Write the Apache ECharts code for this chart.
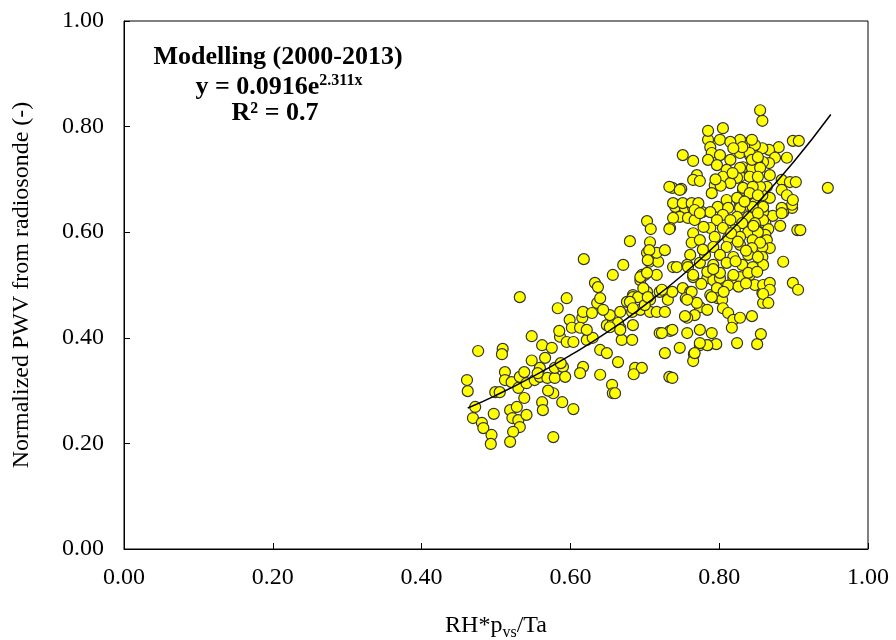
<!DOCTYPE html>
<html>
<head>
<meta charset="utf-8">
<script src="https://cdn.jsdelivr.net/npm/echarts@6/dist/echarts.min.js"></script>
<style>html,body{margin:0;padding:0;background:#fff}#c{width:896px;height:640px}</style>
</head>
<body>
<div id="c"></div>
<script>
// Tick labels
const xTicks = [0.00, 0.20, 0.40, 0.60, 0.80, 1.00];
const yTicks = [0.00, 0.20, 0.40, 0.60, 0.80, 1.00];

const xs = [
0.476,0.509,0.508,0.548,0.461,0.462,0.472,0.469,0.481,0.483,0.494,0.493,0.497,0.499,0.505,0.512,0.512,0.521,0.532,0.538,
0.530,0.541,0.552,0.519,0.528,0.522,0.530,0.532,0.523,0.519,0.541,0.538,0.562,0.563,0.577,0.577,0.559,0.569,0.579,0.559,
0.566,0.562,0.575,0.586,0.579,0.532,0.604,0.589,0.583,0.595,0.585,0.599,0.616,0.617,0.595,0.604,0.602,0.613,0.629,0.636,
0.640,0.633,0.622,0.630,0.622,0.640,0.649,0.617,0.613,0.640,0.656,0.657,0.664,0.669,0.683,0.667,0.684,0.649,0.657,0.653,
0.667,0.676,0.684,0.687,0.618,0.671,0.657,0.637,0.706,0.718,0.703,0.716,0.727,0.738,0.696,0.700,0.716,0.694,0.644,0.664,
0.684,0.691,0.703,0.683,0.694,0.707,0.716,0.727,0.731,0.720,0.707,0.700,0.720,0.734,0.727,0.733,0.696,0.685,0.590,0.593,
0.548,0.556,0.587,0.570,
0.765,0.784,0.792,0.801,0.819,0.828,0.841,0.751,0.761,0.755,0.737,0.788,0.797,0.798,0.804,0.774,0.784,0.767,0.757,0.805,
0.812,0.819,0.828,0.844,0.817,0.848,0.858,0.859,0.737,0.757,0.774,0.790,0.747,0.774,0.785,0.796,0.824,0.851,0.856,0.766,
0.765,0.737,
0.898,0.886,0.872,0.859,0.858,0.862,0.866,0.882,0.905,0.909,0.862,0.864,0.868,0.858,0.858,0.859,0.886,0.859,0.868,0.868,
0.859,0.866,0.899,0.906,
0.855,0.858,0.899,0.907,0.880,0.867,0.858,0.875,0.891,0.867,0.859,0.868,0.884,0.895,0.903,0.864,0.884,0.868,0.891,0.898,
0.858,0.884,0.946,0.837,0.828,0.848,0.828,0.841,0.851,0.832,0.844,0.828,0.832,0.844,0.855,0.899,0.828,0.837,0.848,0.859,
0.884,0.845,0.859,
0.751,0.765,0.770,0.765,0.774,0.737,0.749,0.741,0.754,0.765,0.777,0.747,0.758,0.767,0.738,0.734,0.765,0.763,0.774,0.761,
0.743,0.757,0.774,0.785,0.801,0.815,0.844,0.788,0.790,0.785,0.801,0.815,0.841,0.831,0.844,0.852,0.819,0.797,0.810,0.828,
0.855,0.805,0.824,0.841,0.852,0.794,0.815,0.832,0.845,0.790,0.810,0.824,0.841,0.852,0.798,0.812,0.828,0.845,0.788,0.805,
0.824,0.839,0.852,0.797,0.815,0.831,0.848,0.788,0.805,0.821,0.839,0.852,0.794,0.812,0.828,0.845,0.855,0.792,0.810,0.828,
0.844,0.781,0.801,0.819,0.839,0.852,0.792,0.810,0.831,0.845,0.784,0.801,0.819,0.839,0.851,0.785,0.805,
0.733,0.747,0.738,0.751,0.763,0.772,0.767,0.774,0.703,0.708,0.733,0.680,0.707,0.706,0.704,0.758,0.765,0.763,0.770,0.757,
0.754,0.790,0.694,0.703,0.698,0.704,0.680,0.723,0.684,0.653,0.667,0.723,0.784,0.774,0.767,0.660,
0.812,0.826,0.836,0.806,0.776,0.792,0.822,0.836,0.778,0.816,0.846,0.802,0.818,0.834,0.779,0.795,0.825
];
const ys = [
0.375,0.379,0.369,0.403,0.320,0.299,0.269,0.248,0.239,0.229,0.216,0.199,0.256,0.297,0.297,0.335,0.320,0.316,0.326,0.335,
0.305,0.314,0.320,0.263,0.269,0.248,0.244,0.231,0.222,0.203,0.254,0.286,0.278,0.263,0.295,0.212,0.326,0.324,0.324,0.343,
0.362,0.386,0.381,0.402,0.343,0.477,0.265,0.278,0.456,0.475,0.413,0.434,0.438,0.449,0.392,0.392,0.419,0.419,0.447,0.466,
0.475,0.504,0.396,0.400,0.415,0.377,0.371,0.345,0.333,0.330,0.311,0.295,0.354,0.396,0.396,0.419,0.424,0.424,0.428,0.443,
0.449,0.468,0.481,0.343,0.549,0.538,0.519,0.496,0.544,0.544,0.561,0.561,0.566,0.534,0.519,0.519,0.519,0.509,0.453,0.428,
0.477,0.477,0.487,0.449,0.453,0.449,0.449,0.449,0.472,0.487,0.472,0.462,0.409,0.413,0.371,0.326,0.343,0.331,0.345,0.326,
0.357,0.333,0.352,0.300,
0.515,0.513,0.509,0.513,0.513,0.515,0.519,0.494,0.487,0.475,0.487,0.481,0.494,0.475,0.472,0.458,0.453,0.443,0.438,0.456,
0.447,0.434,0.438,0.441,0.419,0.500,0.485,0.466,0.415,0.409,0.415,0.409,0.381,0.386,0.386,0.388,0.390,0.388,0.407,0.369,
0.356,0.324,
0.646,0.638,0.631,0.638,0.619,0.617,0.606,0.612,0.604,0.604,0.595,0.585,0.570,0.572,0.553,0.538,0.544,0.500,0.504,0.491,
0.483,0.466,0.504,0.491,
0.831,0.811,0.773,0.773,0.761,0.756,0.759,0.741,0.741,0.731,0.733,0.708,0.699,0.695,0.695,0.686,0.680,0.665,0.670,0.652,
0.670,0.646,0.684,0.769,0.775,0.765,0.750,0.746,0.733,0.723,0.722,0.705,0.680,0.680,0.686,0.661,0.655,0.652,0.655,0.648,
0.636,0.633,0.623,
0.746,0.735,0.708,0.699,0.697,0.684,0.682,0.648,0.646,0.646,0.638,0.629,0.627,0.623,0.627,0.608,0.598,0.580,0.585,0.557,
0.534,0.538,0.542,0.775,0.775,0.771,0.775,0.761,0.750,0.737,0.746,0.737,0.750,0.761,0.737,0.742,0.759,0.727,0.718,0.722,
0.722,0.705,0.703,0.705,0.705,0.689,0.693,0.684,0.686,0.674,0.661,0.665,0.674,0.670,0.648,0.646,0.646,0.648,0.638,0.633,
0.629,0.629,0.636,0.623,0.623,0.617,0.617,0.608,0.608,0.604,0.600,0.600,0.591,0.589,0.591,0.585,0.580,0.572,0.572,0.576,
0.570,0.557,0.557,0.553,0.557,0.553,0.538,0.542,0.538,0.534,0.525,0.523,0.519,0.523,0.525,0.792,0.797,
0.686,0.680,0.655,0.655,0.655,0.655,0.642,0.636,0.621,0.606,0.606,0.583,0.581,0.566,0.547,0.534,0.519,0.487,0.466,0.472,
0.441,0.477,0.515,0.523,0.494,0.477,0.468,0.491,0.456,0.420,0.415,0.409,0.386,0.390,0.371,0.295,
0.499,0.497,0.503,0.487,0.502,0.530,0.545,0.565,0.567,0.598,0.612,0.688,0.712,0.658,0.610,0.700,0.582
];

// Fitted curve y = 0.0916e^(2.311x)
const trendX = [0.462, 0.50, 0.55, 0.60, 0.65, 0.70, 0.75, 0.80, 0.85, 0.90, 0.95];
const trendY = [0.267, 0.291, 0.327, 0.367, 0.411, 0.462, 0.518, 0.582, 0.653, 0.733, 0.823];

const FONT = 'Liberation Serif';
const scatterData = xs.map((x, i) => [x, ys[i]]);
const trendData = trendX.map((x, i) => [x, trendY[i]]);

const chart = echarts.init(document.getElementById('c'), null, {renderer: 'canvas'});
chart.setOption({
  animation: false,
  backgroundColor: '#fff',
  grid: {left: 124, right: 28, top: 21, bottom: 91, show: true, borderColor: '#000', borderWidth: 1,
         containLabel: false, outerBoundsMode: 'none'},
  xAxis: {
    type: 'value', min: xTicks[0], max: xTicks[xTicks.length - 1], interval: 0.2,
    axisLine: {show: true, lineStyle: {color: '#000', width: 1}},
    axisTick: {show: true, inside: true, length: 6, lineStyle: {color: '#000'}},
    splitLine: {show: false},
    axisLabel: {color: '#000', fontFamily: FONT, fontSize: 24, margin: 17, formatter: v => v.toFixed(2)},
    name: '{a|RH*p}{b|vs}{a|/Ta}',
    nameLocation: 'middle', nameGap: 62,
    nameTextStyle: {
      rich: {
        a: {fontFamily: FONT, fontSize: 24, color: '#000', lineHeight: 30},
        b: {fontFamily: FONT, fontSize: 16, color: '#000', verticalAlign: 'bottom', lineHeight: 30, padding: [10, 0, 0, 0]}
      }
    }
  },
  yAxis: {
    type: 'value', min: yTicks[0], max: yTicks[yTicks.length - 1], interval: 0.2,
    axisLine: {show: true, lineStyle: {color: '#000', width: 1}},
    axisTick: {show: true, inside: true, length: 6, lineStyle: {color: '#000'}},
    splitLine: {show: false},
    axisLabel: {color: '#000', fontFamily: FONT, fontSize: 24, margin: 20, formatter: v => v.toFixed(2)},
    name: 'Normalized PWV from radiosonde (-)',
    nameLocation: 'middle', nameGap: 90,
    nameTextStyle: {color: '#000', fontFamily: FONT, fontSize: 24}
  },
  series: [
    {
      type: 'scatter', data: scatterData, symbol: 'circle', symbolSize: 11,
      itemStyle: {color: '#FFFF00', borderColor: '#333', borderWidth: 1.2, opacity: 1},
      z: 2
    },
    {
      type: 'line', data: trendData, smooth: true, showSymbol: false, symbol: 'none',
      lineStyle: {color: '#000', width: 1.5}, z: 3
    }
  ],
  graphic: [
    {type: 'text', x: 278, y: 57, silent: true,
     style: {text: 'Modelling (2000-2013)', fill: '#000', font: 'bold 26px "Liberation Serif"', textAlign: 'center', textVerticalAlign: 'middle'}},
    {type: 'text', x: 279, y: 87, silent: true,
     style: {text: '{m|y = 0.0916e}{s|2.311x}', textAlign: 'center', textVerticalAlign: 'middle',
       rich: {m: {fontFamily: FONT, fontWeight: 'bold', fontSize: 26, fill: '#000', color: '#000', lineHeight: 28},
              s: {fontFamily: FONT, fontWeight: 'bold', fontSize: 16, fill: '#000', color: '#000', verticalAlign: 'top', lineHeight: 28}}}},
    {type: 'text', x: 275, y: 113, silent: true,
     style: {text: 'R² = 0.7', fill: '#000', font: 'bold 26px "Liberation Serif"', textAlign: 'center', textVerticalAlign: 'middle'}}
  ]
});
</script>
</body>
</html>
